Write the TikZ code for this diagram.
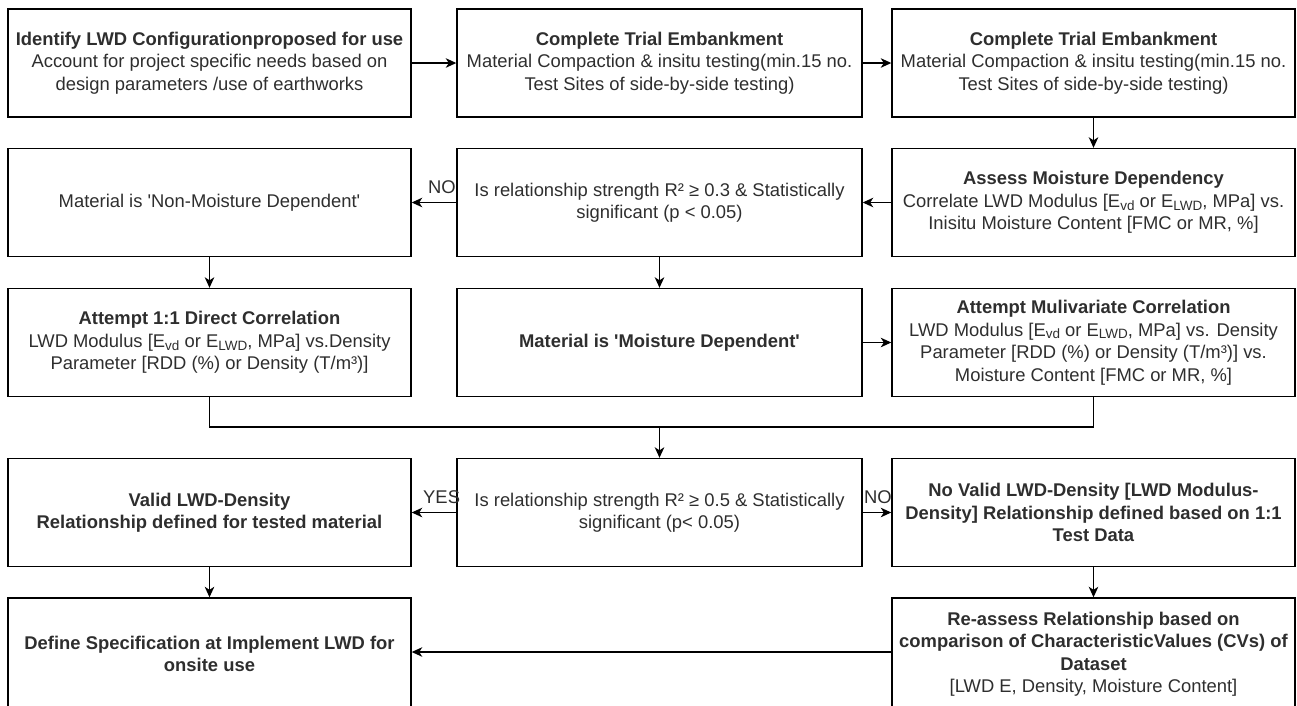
\documentclass[tikz,border=0pt]{standalone}
\usepackage{fontspec}
\setmainfont{Liberation Sans}[Ligatures=TeXOff]
\usetikzlibrary{arrows.meta}
\definecolor{txt}{HTML}{2E2E2E}
\newcommand\mysub[1]{\raisebox{-0.3ex}{\fontsize{13.5}{13.5}\selectfont #1}}
\newcommand\sq{\textquotesingle}
\tikzset{
  box/.style={draw, line width=1.4pt, minimum width=403pt, minimum height=108pt,
    inner sep=0pt, align=center, text=txt, font=\fontsize{18.4}{22.5}\selectfont},
  wbox/.style={box, minimum width=405pt},
  lowbox/.style={box, minimum height=112pt},
  arr/.style={-{Stealth[length=10.5pt,width=9.5pt,inset=3pt]}, line width=1.4pt},
  ln/.style={line width=1.4pt},
  lab/.style={inner sep=0pt, text=txt, font=\fontsize{18.4}{22.5}\selectfont}
}
\begin{document}
\begin{tikzpicture}[x=1pt,y=-1pt]
\useasboundingbox (0,0) rectangle (1297,705);
% row 1
\node[box] (n1) at (209.5,63) {\textbf{Identify LWD Configurationproposed for use}\\Account for project specific needs based on\\design parameters /use of earthworks};
\node[wbox] (n2) at (659.5,63) {\textbf{Complete Trial Embankment}\\Material Compaction \& insitu testing(min.15 no.\\Test Sites of side-by-side testing)};
\node[box] (n3) at (1093.5,63) {\textbf{Complete Trial Embankment}\\Material Compaction \& insitu testing(min.15 no.\\Test Sites of side-by-side testing)};
% row 2
\node[box] (n4) at (1093.5,202.5) {\textbf{Assess Moisture Dependency}\\Correlate LWD Modulus [E\mysub{vd} or E\mysub{LWD}, MPa] vs.\\Inisitu Moisture Content [FMC or MR, \%]};
\node[wbox] (n5) at (659.5,202.5) {Is relationship strength R² ≥ 0.3 \& Statistically\\significant (p < 0.05)};
\node[box] (n6) at (209.5,202.5) {Material is \sq Non-Moisture Dependent\sq};
% row 3
\node[box] (n7) at (209.5,342.5) {\textbf{Attempt 1:1 Direct Correlation}\\LWD Modulus [E\mysub{vd} or E\mysub{LWD}, MPa] vs.Density\\Parameter [RDD (\%) or Density (T/m³)]};
\node[wbox] (n8) at (659.5,342.5) {\textbf{Material is \sq Moisture Dependent\sq}};
\node[box] (n9) at (1093.5,342.5) {\textbf{Attempt Mulivariate Correlation}\\LWD Modulus [E\mysub{vd} or E\mysub{LWD}, MPa] vs. Density\\Parameter [RDD (\%) or Density (T/m³)] vs.\\Moisture Content [FMC or MR, \%]};
% row 4
\node[wbox] (n10) at (659.5,512.5) {Is relationship strength R² ≥ 0.5 \& Statistically\\significant (p< 0.05)};
\node[box] (n11) at (209.5,512.5) {\textbf{Valid LWD-Density}\\\textbf{Relationship defined for tested material}};
\node[box] (n12) at (1093.5,512.5) {\textbf{No Valid LWD-Density [LWD Modulus-}\\\textbf{Density] Relationship defined based on 1:1}\\\textbf{Test Data}};
% row 5
\node[lowbox] (n13) at (209.5,654) {\textbf{Define Specification at Implement LWD for}\\\textbf{onsite use}};
\node[lowbox] (n14) at (1093.5,654) {\textbf{Re-assess Relationship based on}\\\textbf{comparison of CharacteristicValues (CVs) of}\\\textbf{Dataset}\\{}[LWD E, Density, Moisture Content]};
% connectors
\draw[arr] (n1) -- (n2);
\draw[arr] (n2) -- (n3);
\draw[arr] (n3) -- (n4);
\draw[arr] (n4) -- (n5);
\draw[arr] (n5) -- (n6);
\draw[arr] (n6) -- (n7);
\draw[arr] (n5) -- (n8);
\draw[arr] (n8) -- (n9);
\coordinate (j) at (659.5,427);
\draw[ln] (n7.south) |- (j);
\draw[ln] (n9.south) |- (j);
\draw[arr] (j) -- (n10.north);
\draw[arr] (n10) -- (n11);
\draw[arr] (n10) -- (n12);
\draw[arr] (n11) -- (n13);
\draw[arr] (n12) -- (n14);
\draw[arr] (n14.west |- 0,652) -- (n13.east |- 0,652);
% labels
\node[lab, anchor=base west] (l1) at (428,193) {NO};
\node[lab, anchor=base west] (l2) at (423,503) {YES};
\node[lab, anchor=base west] (l3) at (864,503) {NO};
\end{tikzpicture}
\end{document}
